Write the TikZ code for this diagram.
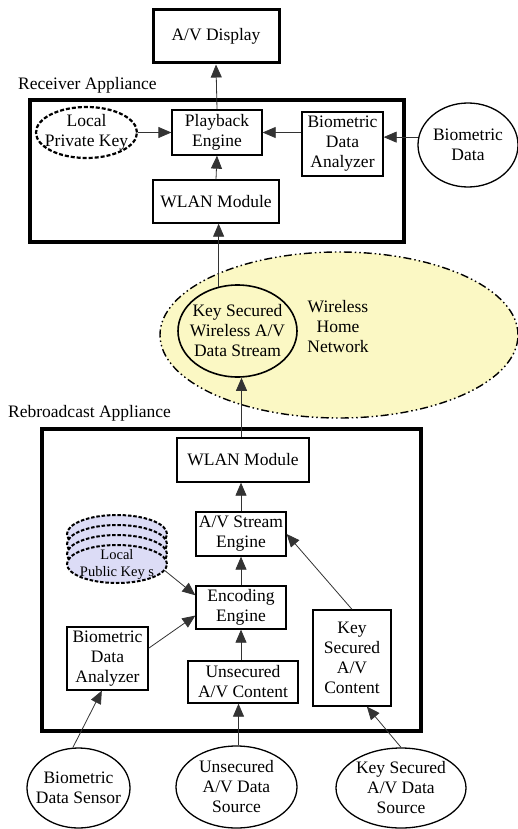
\documentclass[tikz,border=0pt]{standalone}
\usepackage{fontspec}
\setmainfont{Liberation Serif}
\usetikzlibrary{arrows.meta,shapes.geometric}
\definecolor{netyellow}{HTML}{FBF8C4}
\definecolor{keylav}{HTML}{DCDCF6}
\begin{document}
\begin{tikzpicture}[x=1pt,y=-1pt,
  txt/.style={font=\fontsize{17.5}{20}\selectfont, align=center},
  box/.style={draw, line width=1.3pt, txt, inner sep=0pt},
  ell/.style={ellipse, draw, line width=1.3pt, inner sep=0pt},
  frame/.style={draw, line width=3.2pt, inner sep=0pt},
  arr/.style={-{Triangle[length=13pt,width=11pt]}, line width=0.8pt, draw=black!80},
  keyell/.style={ellipse, draw, line width=2pt, dash pattern=on 3.5pt off 1.8pt, fill=keylav, minimum width=100pt, minimum height=38pt, inner sep=0pt}
]
\useasboundingbox (0,0) rectangle (518,829);

% wireless home network
\node[ellipse, fill=netyellow, draw, line width=1.4pt,
  dash pattern=on 8pt off 3pt on 1.5pt off 3pt on 1.5pt off 3pt,
  minimum width=358pt, minimum height=166pt, inner sep=0pt] (whn) at (339,335) {};
\node[txt] (whnT) at (338,327) {Wireless\\Home\\Network};
\node[ell, line width=1.6pt, minimum width=119pt, minimum height=92pt,
  label={[txt]center:Key Secured\\Wireless A/V\\Data Stream}] (ksws) at (237.5,331) {};

% receiver appliance
\node[frame, minimum width=374pt, minimum height=142pt] (recv) at (217,171) {};
\node[txt, anchor=west, inner sep=0pt] (recvlab) at (18,85) {Receiver Appliance};
\node[box, line width=3pt, minimum width=126pt, minimum height=53pt] (avd) at (216,36.5) {A/V Display};
\node[box, minimum width=90pt, minimum height=45pt] (pb) at (217,132.5) {Playback\\Engine};
\node[box, minimum width=81pt, minimum height=64pt] (rbda) at (342.5,144) {Biometric\\Data\\Analyzer};
\node[box, minimum width=126pt, minimum height=43pt] (rwlan) at (216,201.5) {WLAN Module};
\node[ell, line width=2.2pt, dash pattern=on 4pt off 2pt, minimum width=101pt, minimum height=51pt,
  label={[txt]center:Local\\Private Key}] (lpk) at (86.5,132.5) {};
\node[ell, minimum width=100pt, minimum height=84pt,
  label={[txt]center:Biometric\\Data}] (bd) at (468,145) {};

% rebroadcast appliance
\node[frame, minimum width=379pt, minimum height=302pt] (rebr) at (231.5,580) {};
\node[txt, anchor=west, inner sep=0pt] (rebrlab) at (8,413) {Rebroadcast Appliance};
\node[box, minimum width=132pt, minimum height=44pt] (bwlan) at (243,460) {WLAN Module};
\node[box, minimum width=90pt, minimum height=44pt] (bse) at (241,534) {A/V Stream\\Engine};
\node[box, minimum width=90pt, minimum height=43pt] (enc) at (241,607.5) {Encoding\\Engine};
\node[box, minimum width=81pt, minimum height=63pt] (bda) at (107.5,658.5) {Biometric\\Data\\Analyzer};
\node[box, minimum width=110pt, minimum height=42pt] (uc) at (243,682) {Unsecured\\A/V Content};
\node[box, minimum width=78pt, minimum height=96pt] (ksc) at (352,658) {Key\\Secured\\A/V\\Content};

\node[keyell] (lpubA) at (117,534) {};
\node[keyell] (lpubB) at (117,544) {};
\node[keyell] (lpubC) at (117,554) {};
\node[keyell, label={[font=\fontsize{14.5}{17}\selectfont, align=center, yshift=-1pt]center:Local\\Public Key s}] (lpub) at (117,564) {};

% sources
\node[ell, minimum width=103pt, minimum height=80pt,
  label={[txt]center:Biometric\\Data Sensor}] (bds) at (78.5,788) {};
\node[ell, minimum width=121pt, minimum height=82pt,
  label={[txt]center:Unsecured\\A/V Data\\Source}] (usrc) at (236.5,787) {};
\node[ell, minimum width=130pt, minimum height=80pt,
  label={[txt]center:Key Secured\\A/V Data\\Source}] (ksrc) at (401,788) {};

% connectors receiver
\draw[arr] (pb.north) -- (avd.south);
\draw[arr] (lpk.east) -- (pb.west);
\draw[arr] (rbda.west |- pb.east) -- (pb.east);
\draw[arr] (bd.171) -- (bd.171 -| rbda.east);
\draw[arr] (rwlan.north) -- (pb.south);
\draw[arr] (ksws.113) -- (ksws.113 |- rwlan.south);

% connectors rebroadcast
\coordinate (bw) at ([xshift=4pt]ksws.south);
\draw[arr] (bw |- bwlan.north) -- (bw |- ksws.south);
\draw[arr] (bse.north) -- (bwlan.south -| bse.north);
\draw[arr] (enc.north) -- (bse.south);
\draw[arr] (lpub.-8) -- (enc.165);
\draw[arr] (bda.14) -- (enc.190);
\draw[arr] (uc.north -| enc.south) -- (enc.south);
\draw[arr] (ksc.north) -- (bse.east);
\draw[arr] (bds.98) -- (bda.260);
\coordinate (us) at ([xshift=2pt]usrc.north);
\draw[arr] (us) -- (us |- uc.south);
\draw[arr] (ksrc.north) -- (ksc.287);
\end{tikzpicture}
\end{document}
